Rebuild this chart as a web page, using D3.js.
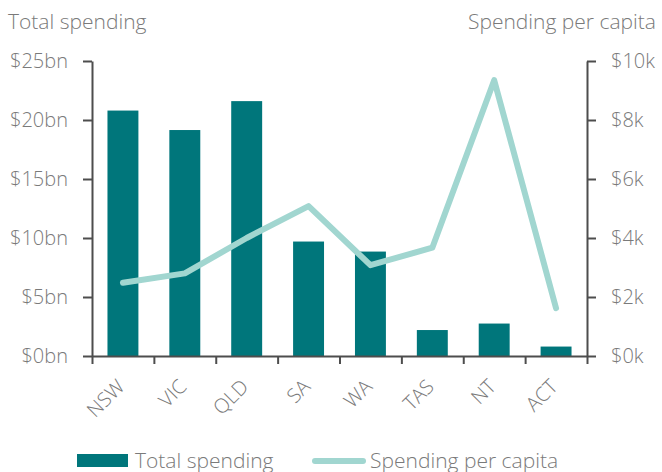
<!DOCTYPE html>
<html>
<head>
<meta charset="utf-8">
<script src="https://cdn.jsdelivr.net/npm/d3@7"></script>
<style>
  body { margin: 0; background: #fff; }
  svg text { font-family: "Open Sans", sans-serif; font-weight: 300; fill: #7a7a7a; }
  .axis path, .axis line { stroke: #4d4d4d; stroke-width: 2; }
</style>
</head>
<body>
<svg id="chart" width="662" height="472"></svg>
<script>
const states = ["NSW", "VIC", "QLD", "SA", "WA", "TAS", "NT", "ACT"];
const totalSpending = [20.8, 19.15, 21.6, 9.7, 8.85, 2.2, 2.75, 0.8];   // $bn
const perCapita = [2.48, 2.8, 4.0, 5.08, 3.08, 3.67, 9.35, 1.62];       // $k
const leftTicks = [0, 5, 10, 15, 20, 25];
const rightTicks = [0, 2, 4, 6, 8, 10];

const margin = { top: 61, right: 75, bottom: 116, left: 92 };
const width = 662 - margin.left - margin.right;
const height = 472 - margin.top - margin.bottom;

const svg = d3.select("#chart");
const g = svg.append("g").attr("transform", `translate(${margin.left},${margin.top})`);

const x = d3.scaleBand().domain(states).range([0, width]).paddingInner(0.5).paddingOuter(0.25);
const xEdges = d3.scaleLinear().domain([0, states.length]).range([0, width]);
const yLeft = d3.scaleLinear().domain([0, 25]).range([height, 0]);
const yRight = d3.scaleLinear().domain([0, 10]).range([height, 0]);

// bars
g.selectAll(".bar")
  .data(states)
  .enter().append("rect")
  .attr("class", "bar")
  .attr("x", d => x(d))
  .attr("y", (d, i) => yLeft(totalSpending[i]))
  .attr("width", x.bandwidth())
  .attr("height", (d, i) => height - yLeft(totalSpending[i]))
  .attr("fill", "#00767b");

// axes
g.append("g")
  .attr("class", "axis")
  .call(d3.axisLeft(yLeft).tickValues(leftTicks).tickSize(9).tickSizeOuter(0).tickPadding(15).tickFormat(d => `$${d}bn`))
  .call(a => a.selectAll("text").style("font-size", "20px").attr("fill", "#7a7a7a"));

g.append("g")
  .attr("class", "axis")
  .attr("transform", `translate(${width},0)`)
  .call(d3.axisRight(yRight).tickValues(rightTicks).tickSize(9).tickSizeOuter(0).tickPadding(15).tickFormat(d => `$${d}k`))
  .call(a => a.selectAll("text").style("font-size", "20px").attr("fill", "#7a7a7a"));

g.append("g")
  .attr("class", "axis")
  .attr("transform", `translate(0,${height})`)
  .call(d3.axisBottom(xEdges).tickValues(d3.range(states.length + 1)).tickSize(8).tickSizeOuter(0).tickFormat(""));

// category labels
g.selectAll(".xlabel")
  .data(states)
  .enter().append("text")
  .attr("class", "xlabel")
  .attr("transform", d => `translate(${x(d) + x.bandwidth() / 2 - 2},${height + 27}) rotate(-45)`)
  .attr("text-anchor", "end")
  .attr("dy", "0.35em")
  .style("font-size", "20px")
  .text(d => d);

// per capita line
const line = d3.line()
  .x((d, i) => x(states[i]) + x.bandwidth() / 2)
  .y(d => yRight(d));

g.append("path")
  .datum(perCapita)
  .attr("d", line)
  .attr("fill", "none")
  .attr("stroke", "#a1d6d0")
  .attr("stroke-width", 6)
  .attr("stroke-linecap", "round")
  .attr("stroke-linejoin", "round");

// axis titles
svg.append("text").attr("x", 8).attr("y", 29).style("font-size", "21px").text("Total spending");
svg.append("text").attr("x", 656).attr("y", 29).attr("text-anchor", "end").style("font-size", "21px").text("Spending per capita");

// legend
const legend = svg.append("g").attr("class", "legend");
legend.append("rect").attr("x", 77).attr("y", 454).attr("width", 51).attr("height", 13).attr("fill", "#00767b");
legend.append("text").attr("x", 135).attr("y", 468).style("font-size", "21px").text("Total spending");
legend.append("line").attr("x1", 315).attr("x2", 363).attr("y1", 461).attr("y2", 461)
  .attr("stroke", "#a1d6d0").attr("stroke-width", 6).attr("stroke-linecap", "round");
legend.append("text").attr("x", 370).attr("y", 468).style("font-size", "21px").text("Spending per capita");
</script>
</body>
</html>
